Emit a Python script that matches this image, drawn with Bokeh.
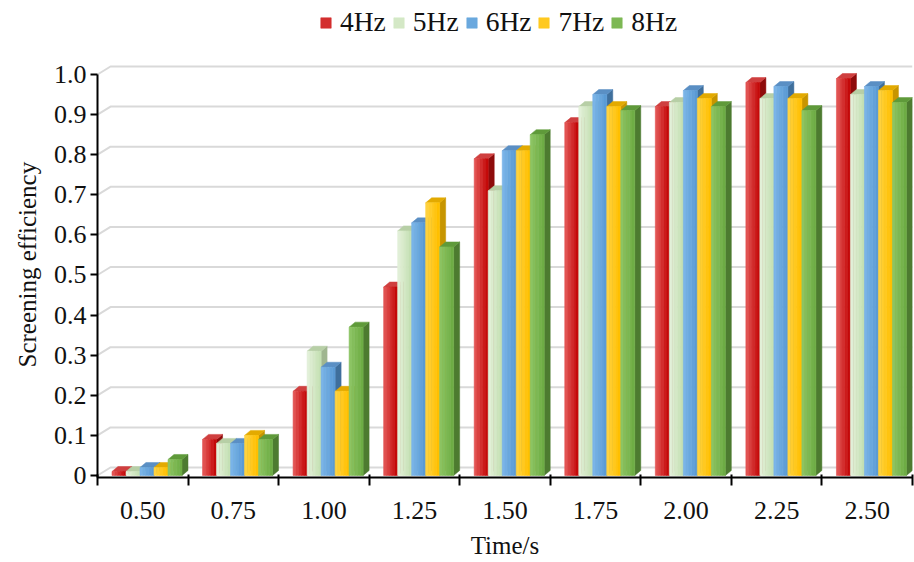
import math
from bokeh.plotting import figure
from bokeh.models import Range1d, FixedTicker, CustomJSTickFormatter, Legend, LegendItem, Title
from bokeh.embed import file_html
from bokeh.resources import INLINE

# ---- data ----
times = ["0.50", "0.75", "1.00", "1.25", "1.50", "1.75", "2.00", "2.25", "2.50"]
series_names = ["4Hz", "5Hz", "6Hz", "7Hz", "8Hz"]
eff_4hz = [0.01, 0.09, 0.21, 0.47, 0.79, 0.88, 0.92, 0.98, 0.99]
eff_5hz = [0.01, 0.08, 0.31, 0.61, 0.71, 0.92, 0.93, 0.94, 0.95]
eff_6hz = [0.02, 0.08, 0.27, 0.63, 0.81, 0.95, 0.96, 0.97, 0.97]
eff_7hz = [0.02, 0.10, 0.21, 0.68, 0.81, 0.92, 0.94, 0.94, 0.96]
eff_8hz = [0.04, 0.09, 0.37, 0.57, 0.85, 0.91, 0.92, 0.91, 0.93]
y_ticks = [0.0, 0.1, 0.2, 0.3, 0.4, 0.5, 0.6, 0.7, 0.8, 0.9, 1.0]
x_title = "Time/s"
y_title = "Screening efficiency"

series_values = [eff_4hz, eff_5hz, eff_6hz, eff_7hz, eff_8hz]
# (front light, front base, side, top)
palette = [
    ("#e25352", "#c40a0a", "#8e0b0b", "#cf3f3f"),
    ("#e2f0d8", "#c5e0b4", "#a0b690", "#b7cfa6"),
    ("#7ab4e8", "#5b9bd5", "#3f6f9c", "#5a8fc4"),
    ("#ffd23f", "#ffc000", "#c79500", "#e3aa00"),
    ("#8cc463", "#6ead45", "#4d7b30", "#5f9a3a"),
]

FONT = "Liberation Serif"
W, H = 914, 562
BL, BR, BT, BB = 97, 2, 0, 85
PXY = 401.0
Y0 = -0.005
Y1 = (H - BB) / PXY + Y0
n_cat = len(times)
p = figure(width=W, height=H, output_backend="svg", toolbar_location=None,
           x_range=Range1d(0, n_cat), y_range=Range1d(Y0, Y1),
           min_border_left=BL, min_border_right=BR, min_border_top=BT,
           min_border_bottom=BB)
p.xgrid.visible = False
p.ygrid.visible = False
p.outline_line_color = None
p.background_fill_color = "white"

px_x = (W - BL - BR) / float(n_cat)
px_y = (H - BT - BB) / (Y1 - Y0)
wall_dx = 13 / px_x
wall_dy = 8 / px_y

# back-wall gridlines with slanted side-wall segment
gx = [[0, wall_dx, n_cat] for v in y_ticks]
gy = [[v, v + wall_dy, v + wall_dy] for v in y_ticks]
p.multi_line(gx, gy, line_color="#d9d9d9", line_width=2)

# 3D bars
bw = 14.0 / px_x
off = 14.5 / px_x
ddx = 6 / px_x
ddy = 5 / px_y
nstrip = 5


def mix(c1, c2, t):
    a = [int(c1[i:i + 2], 16) for i in (1, 3, 5)]
    b = [int(c2[i:i + 2], 16) for i in (1, 3, 5)]
    return "#%02x%02x%02x" % tuple(int(round(a[j] + (b[j] - a[j]) * t)) for j in range(3))


legend_items = []
for k, (name, vals) in enumerate(zip(series_names, series_values)):
    light, base, side, top = palette[k]
    x0s = [i + off + k * bw for i in range(n_cat)]
    x1s = [x + bw for x in x0s]
    # side face
    sxs = [[x1, x1 + ddx, x1 + ddx, x1] for x1 in x1s]
    sys_ = [[0, ddy, v + ddy, v] for v in vals]
    p.patches(sxs, sys_, fill_color=side, line_color=side, line_width=0.5)
    # top face
    txs = [[x0, x1, x1 + ddx, x0 + ddx] for x0, x1 in zip(x0s, x1s)]
    tys = [[v, v, v + ddy, v + ddy] for v in vals]
    p.patches(txs, tys, fill_color=top, line_color=top, line_width=0.5)
    # front face with horizontal gradient strips
    legend_r = None
    for s in range(nstrip):
        c = mix(light, base, s / (nstrip - 1))
        r = p.quad(left=[x0 + s * bw / nstrip for x0 in x0s],
                   right=[x0 + (s + 1) * bw / nstrip for x0 in x0s],
                   bottom=[0] * n_cat, top=vals,
                   fill_color=c, line_color=c, line_width=0.6)
        if s == nstrip // 2:
            legend_r = r
    legend_items.append(LegendItem(label=name, renderers=[legend_r]))

legend = Legend(items=legend_items, orientation="horizontal", location=(222, 439),
                glyph_width=13, glyph_height=13, label_standoff=8, spacing=6,
                padding=4, margin=0, border_line_color=None,
                background_fill_alpha=0, label_text_font=FONT,
                label_text_font_style="normal",
                label_text_font_size="27.5px", label_text_color="#111111")
p.add_layout(legend)

# axes
p.yaxis.ticker = FixedTicker(ticks=y_ticks)
p.yaxis.formatter = CustomJSTickFormatter(code="return tick == 0 ? '0' : tick.toFixed(1);")
p.yaxis.bounds = (Y0, 1.0)
p.yaxis.major_tick_out = 7
p.yaxis.major_tick_in = 0
p.yaxis.minor_tick_line_color = None

p.xaxis.ticker = FixedTicker(ticks=[i + 0.5 for i in range(n_cat)],
                             minor_ticks=list(range(n_cat + 1)))
p.xaxis.formatter = CustomJSTickFormatter(args=dict(labels=times),
                                          code="return labels[Math.floor(tick)];")
p.xaxis.major_tick_out = 0
p.xaxis.major_tick_in = 0
p.xaxis.minor_tick_out = 8
p.xaxis.minor_tick_in = 3
p.xaxis.minor_tick_line_color = "black"
p.xaxis.minor_tick_line_width = 2
p.xaxis.major_label_standoff = 16
p.xaxis.axis_label = x_title
p.xaxis.axis_label_standoff = 10

for ax in (p.xaxis[0], p.yaxis[0]):
    ax.axis_line_color = "black"
    ax.axis_line_width = 2
    ax.major_tick_line_color = "black"
    ax.major_tick_line_width = 2
    ax.major_label_text_font = FONT
    ax.major_label_text_color = "#111111"
    ax.major_label_text_font_size = "26px"
    ax.axis_label_text_font = FONT
    ax.axis_label_text_font_size = "25px"
    ax.axis_label_text_font_style = "normal"
    ax.axis_label_text_color = "#111111"

p.yaxis.major_label_standoff = 4

# y title as a side-panel title, starting near the bottom like the reference
p.add_layout(Title(text=y_title, align="left", offset=110, standoff=19,
                   text_font=FONT, text_font_size="25px", text_font_style="normal",
                   text_color="#111111"), "left")

open("out.html", "w").write(file_html(p, INLINE))
